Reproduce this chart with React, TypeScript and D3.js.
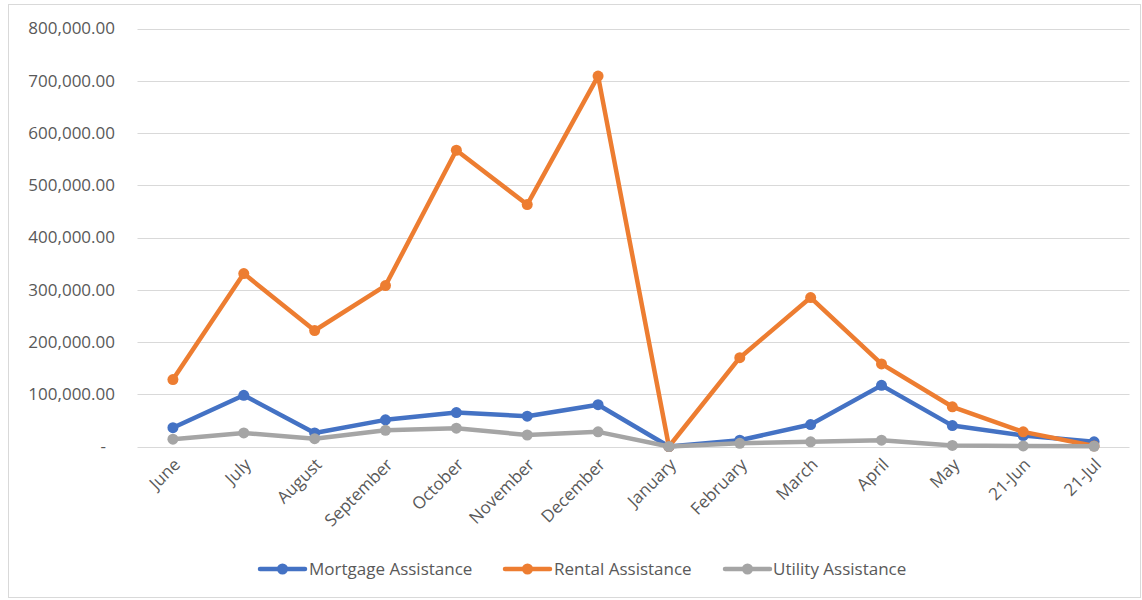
import React from "react";
import * as d3 from "d3";

const categories = ["June", "July", "August", "September", "October", "November", "December", "January", "February", "March", "April", "May", "21-Jun", "21-Jul"];
const mortgage = [36000, 98000, 26000, 51000, 65000, 58000, 80000, 0, 12000, 42000, 117000, 40000, 21000, 9000];
const rental = [128000, 331000, 222000, 308000, 567000, 463000, 709000, 0, 170000, 285000, 158000, 76000, 28000, 1000];
const utility = [14000, 26000, 15000, 31000, 35000, 22000, 28000, 0, 6000, 9000, 12000, 2000, 1000, 500];
const yTicks = [0, 100000, 200000, 300000, 400000, 500000, 600000, 700000, 800000];

const seriesNames = ["Mortgage Assistance", "Rental Assistance", "Utility Assistance"];
const seriesColors = ["#4472C4", "#ED7D31", "#A5A5A5"];

const W = 1142;
const H = 600;
const plotLeft = 137.5;
const plotRight = 1129.5;
const plotTop = 28.5;
const plotBottom = 446.5;
const FONT = "'Open Sans', sans-serif";
const FS = 17;

export default function App() {
  const x = d3.scaleBand<string>().domain(categories).range([plotLeft, plotRight]).padding(0);
  const cx = (c: string) => (x(c) as number) + x.bandwidth() / 2;
  const y = d3.scaleLinear().domain([0, 800000]).range([plotBottom, plotTop]);
  const fmt = d3.format(",.2f");
  const series = [mortgage, rental, utility];
  const line = d3
    .line<number>()
    .x((_, i) => cx(categories[i]))
    .y((d) => y(d));

  const legendItems = [
    { lx: 260, tx: 309 },
    { lx: 505, tx: 554 },
    { lx: 725, tx: 773 },
  ];

  return (
    <svg width={W} height={H} style={{ position: "absolute", left: 0, top: 0, background: "#fff" }}>
      <rect x={8.5} y={4.5} width={1132} height={593} fill="#fff" stroke="#D9D9D9" strokeWidth={1} />
      {yTicks.map((t) => (
        <g key={t}>
          <line x1={plotLeft} x2={plotRight} y1={Math.round(y(t)) + 0.5} y2={Math.round(y(t)) + 0.5} stroke="#D9D9D9" strokeWidth={1} />
          <text
            x={t === 0 ? 106 : 115}
            y={y(t)}
            dy="0.35em"
            textAnchor="end"
            fontFamily={FONT}
            fontSize={FS}
            fill="#595959"
          >
            {t === 0 ? "-" : fmt(t)}
          </text>
        </g>
      ))}
      {categories.map((c) => (
        <text
          key={c}
          transform={`translate(${cx(c) + 4},${plotBottom + 15}) rotate(-45)`}
          textAnchor="end"
          dy="0.35em"
          fontFamily={FONT}
          fontSize={FS}
          fill="#595959"
        >
          {c}
        </text>
      ))}
      {series.map((s, si) => (
        <g key={si}>
          <path d={line(s) || ""} fill="none" stroke={seriesColors[si]} strokeWidth={4.5} strokeLinejoin="round" strokeLinecap="round" />
          {s.map((v, i) => (
            <circle key={i} cx={cx(categories[i])} cy={y(v)} r={5.5} fill={seriesColors[si]} />
          ))}
        </g>
      ))}
      {seriesNames.map((n, i) => (
        <g key={n}>
          <line x1={legendItems[i].lx} x2={legendItems[i].lx + 45} y1={569} y2={569} stroke={seriesColors[i]} strokeWidth={4.5} strokeLinecap="round" />
          <circle cx={legendItems[i].lx + 22.5} cy={569} r={5.5} fill={seriesColors[i]} />
          <text x={legendItems[i].tx} y={569} dy="0.35em" fontFamily={FONT} fontSize={FS} fill="#595959">
            {n}
          </text>
        </g>
      ))}
    </svg>
  );
}
